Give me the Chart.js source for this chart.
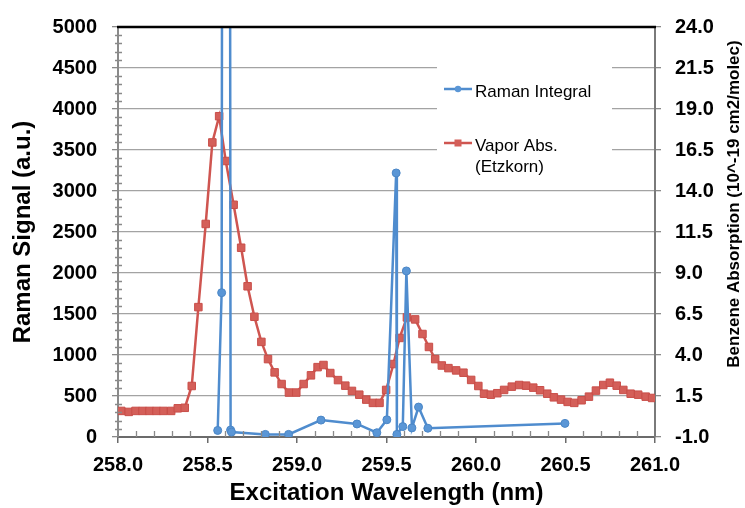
<!DOCTYPE html>
<html>
<head>
<meta charset="utf-8">
<title>Raman Integral vs Vapor Absorption</title>
<script src="https://cdn.jsdelivr.net/npm/chart.js@4.4.1/dist/chart.umd.min.js"></script>
<style>
    html, body { margin: 0; padding: 0; background: #fff; }
    #wrap { width: 745px; height: 508px; position: relative; }
</style>
</head>
<body>
<div id="wrap"><canvas id="ramanChart"></canvas></div>
<script>
/**=================
 * Data
 =================*/
// Raman integral (left axis), one point per excitation wavelength
const ramanWavelength = [258.557, 258.579, 258.605, 258.629, 258.634, 258.823, 258.953, 259.134, 259.335,
    259.446, 259.502, 259.554, 259.558, 259.591, 259.611, 259.642, 259.679, 259.731, 260.497];
const ramanSignal = [80, 1760, 48000, 85, 60, 32, 32, 206, 159,
    52, 210, 3220, 32, 127, 2025, 111, 365, 107, 166];

// Vapor absorption cross section (right axis), Etzkorn
const absWavelength = [258.018, 258.060, 258.098, 258.137, 258.176, 258.215, 258.254, 258.297, 258.334, 258.373,
    258.412, 258.449, 258.490, 258.527, 258.565, 258.602, 258.646, 258.688, 258.724, 258.762,
    258.801, 258.838, 258.875, 258.914, 258.955, 258.996, 259.037, 259.078, 259.115, 259.148,
    259.186, 259.229, 259.270, 259.307, 259.348, 259.387, 259.424, 259.461, 259.498, 259.539,
    259.573, 259.614, 259.660, 259.701, 259.737, 259.772, 259.809, 259.846, 259.889, 259.930,
    259.973, 260.013, 260.045, 260.083, 260.119, 260.157, 260.200, 260.241, 260.280, 260.320,
    260.358, 260.398, 260.435, 260.475, 260.512, 260.549, 260.590, 260.631, 260.670, 260.711,
    260.748, 260.786, 260.823, 260.864, 260.906, 260.948, 260.984];
const absValue = [0.59, 0.53, 0.59, 0.59, 0.59, 0.59, 0.59, 0.59, 0.75, 0.78,
    2.11, 6.92, 11.99, 16.96, 18.56, 15.83, 13.16, 10.54, 8.19, 6.33,
    4.80, 3.75, 2.94, 2.23, 1.71, 1.71, 2.23, 2.76, 3.26, 3.39,
    2.90, 2.47, 2.13, 1.81, 1.58, 1.28, 1.08, 1.08, 1.87, 3.45,
    5.04, 6.29, 6.17, 5.28, 4.49, 3.75, 3.36, 3.20, 3.06, 2.92,
    2.48, 2.11, 1.64, 1.58, 1.67, 1.87, 2.07, 2.17, 2.13, 2.01,
    1.85, 1.64, 1.42, 1.28, 1.14, 1.08, 1.24, 1.46, 1.83, 2.17,
    2.31, 2.13, 1.87, 1.64, 1.58, 1.46, 1.38];

const seriesNames = ['Raman Integral', ['Vapor Abs.', '(Etzkorn)']];
const xTitle = 'Excitation Wavelength (nm)';
const yTitle = 'Raman Signal (a.u.)';
const y1Title = 'Benzene Absorption (10^-19 cm2/molec)';

const BLUE = '#4f8cce';
const RED = '#cf5550';
const FONT = '"Liberation Sans", Arial, sans-serif';

Chart.defaults.font.family = FONT;
Chart.defaults.color = '#000';

/**=================
 * Plugins
 =================*/
// minor tick marks on the left and bottom axes, black top border
const axisExtras = {
    id: 'axisExtras',
    afterDatasetsDraw(chart) {
        const { ctx, chartArea: a, scales } = chart;
        ctx.save();
        ctx.strokeStyle = '#8a8a8a';
        ctx.lineWidth = 1.3;
        ctx.beginPath();
        for (let v = 100; v < 5000; v += 100) {
            if (v % 500 === 0) continue;
            const y = Math.round(scales.y.getPixelForValue(v)) + 0.5;
            ctx.moveTo(a.left - 3, y);
            ctx.lineTo(a.left + 4, y);
        }
        for (let i = 1; i < 30; i++) {
            if (i % 5 === 0) continue;
            const x = Math.round(scales.x.getPixelForValue(258 + i / 10)) + 0.5;
            ctx.moveTo(x, a.bottom);
            ctx.lineTo(x, a.bottom - 6);
        }
        ctx.stroke();

        ctx.strokeStyle = '#000';
        ctx.lineWidth = 2.5;
        ctx.beginPath();
        ctx.moveTo(a.left - 1, a.top);
        ctx.lineTo(a.right + 1, a.top);
        ctx.stroke();
        ctx.restore();
    }
};

// legend box sitting inside the plot area
const insideLegend = {
    id: 'insideLegend',
    afterDatasetsDraw(chart) {
        const { ctx } = chart;
        const ds = chart.data.datasets;
        ctx.save();
        ctx.fillStyle = '#fff';
        ctx.fillRect(437, 66, 175, 112);

        const rows = [{ y: 89 }, { y: 143 }];
        ctx.font = '17px ' + FONT;
        ctx.textBaseline = 'middle';
        rows.forEach((row, i) => {
            const d = ds[i];
            ctx.strokeStyle = d.borderColor;
            ctx.lineWidth = 2.5;
            ctx.beginPath();
            ctx.moveTo(444, row.y);
            ctx.lineTo(472, row.y);
            ctx.stroke();
            ctx.fillStyle = d.pointBackgroundColor;
            if (d.pointStyle === 'rect') {
                ctx.fillRect(454.5, row.y - 3.5, 7, 7);
            } else {
                ctx.beginPath();
                ctx.arc(458, row.y, 3.2, 0, Math.PI * 2);
                ctx.fill();
            }
            ctx.fillStyle = '#000';
            const lines = [].concat(seriesNames[i]);
            lines.forEach((t, k) => ctx.fillText(t, 475, row.y + 3 + k * 21));
        });
        ctx.restore();
    }
};

// right axis title reads bottom-to-top like the left one
const rightTitle = {
    id: 'rightTitle',
    afterDraw(chart) {
        const { ctx } = chart;
        ctx.save();
        ctx.translate(734, 204);
        ctx.rotate(-Math.PI / 2);
        ctx.font = 'bold 17px ' + FONT;
        ctx.fillStyle = '#000';
        ctx.textAlign = 'center';
        ctx.textBaseline = 'middle';
        ctx.fillText(y1Title, 0, 0);
        ctx.restore();
    }
};

/**=================
 * Chart
 =================*/
const ramanCtx = document.getElementById('ramanChart');
const ramanChart = new Chart(ramanCtx, {
    type: 'line',
    data: {
        datasets: [{
            label: 'Raman Integral',
            data: ramanWavelength.map((w, i) => ({ x: w, y: ramanSignal[i] })),
            yAxisID: 'y',
            borderColor: BLUE,
            borderWidth: 2.5,
            pointStyle: 'circle',
            pointRadius: 4,
            pointBackgroundColor: '#5a96d6',
            pointBorderColor: '#4a86c6',
            pointBorderWidth: 1,
            tension: 0,
            fill: false
        }, {
            label: 'Vapor Abs. (Etzkorn)',
            data: absWavelength.map((w, i) => ({ x: w, y: absValue[i] })),
            yAxisID: 'y1',
            borderColor: RED,
            borderWidth: 2.5,
            pointStyle: 'rect',
            pointRadius: 5.3,
            pointBackgroundColor: '#d45f59',
            pointBorderColor: '#c94e49',
            pointBorderWidth: 1,
            tension: 0,
            fill: false
        }]
    },
    options: {
        responsive: true,
        maintainAspectRatio: false,
        animation: false,
        events: [],
        layout: {
            padding: { top: 16, left: 0, right: 0, bottom: 0 }
        },
        scales: {
            x: {
                type: 'linear',
                position: 'bottom',
                min: 258,
                max: 261,
                afterFit: s => { s.height = 71; },
                ticks: {
                    stepSize: 0.5,
                    padding: 10,
                    font: { size: 20, weight: 'bold' },
                    callback: v => v.toFixed(1)
                },
                grid: {
                    drawOnChartArea: false,
                    tickLength: 6,
                    color: '#6b6b6b',
                    lineWidth: 1.5
                },
                border: { color: '#6b6b6b', width: 2 },
                title: {
                    display: true,
                    text: xTitle,
                    font: { size: 24, weight: 'bold' },
                    padding: { top: 0, bottom: 0 }
                }
            },
            y: {
                position: 'left',
                min: 0,
                max: 5000,
                afterFit: s => { s.width = 118; },
                ticks: {
                    stepSize: 500,
                    padding: 15,
                    font: { size: 20, weight: 'bold' },
                    callback: v => String(v)
                },
                grid: {
                    color: '#a3a3a3',
                    lineWidth: 1.3,
                    tickLength: 6,
                    tickColor: '#8a8a8a'
                },
                border: { color: '#8a8a8a', width: 2 },
                title: {
                    display: true,
                    text: yTitle,
                    font: { size: 24, weight: 'bold' },
                    padding: { top: 9, bottom: 0 }
                }
            },
            y1: {
                position: 'right',
                min: -1,
                max: 24,
                afterFit: s => { s.width = 90; },
                ticks: {
                    stepSize: 2.5,
                    padding: 14,
                    font: { size: 20, weight: 'bold' },
                    callback: v => v.toFixed(1)
                },
                grid: {
                    drawOnChartArea: false,
                    tickLength: 6,
                    color: '#8a8a8a',
                    lineWidth: 1.3
                },
                border: { color: '#7a7a7a', width: 2 }
            }
        },
        plugins: {
            legend: { display: false },
            tooltip: { enabled: false }
        }
    },
    plugins: [axisExtras, insideLegend, rightTitle]
});
</script>
</body>
</html>
